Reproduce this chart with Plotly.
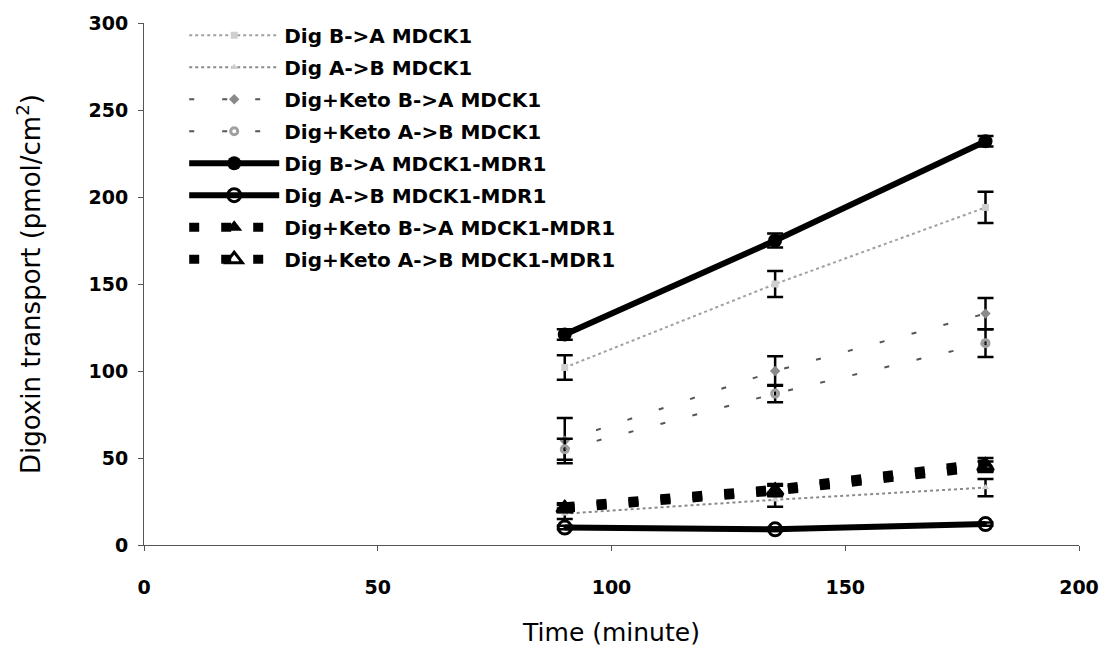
import plotly.graph_objects as go

# Sampling times (minutes)
time_min = [90, 135, 180]

# Digoxin transport (pmol/cm^2) and SD for each condition
dig_ba_mdck1 = [102, 150, 194]
dig_ba_mdck1_err = [7, 7.5, 9]
dig_ab_mdck1 = [18, 26, 33]
dig_ab_mdck1_err = [3, 4, 5]
keto_ba_mdck1 = [60, 100, 133]
keto_ba_mdck1_err = [13, 8.5, 9]
keto_ab_mdck1 = [55, 87, 116]
keto_ab_mdck1_err = [6, 5, 8]
dig_ba_mdr1 = [121, 175, 232]
dig_ba_mdr1_err = [3, 4, 3]
dig_ab_mdr1 = [10, 9, 12]
dig_ab_mdr1_err = [1, 1, 1]
keto_ba_mdr1 = [22, 32, 47]
keto_ba_mdr1_err = [2, 3, 3]
keto_ab_mdr1 = [21, 31, 45]
keto_ab_mdr1_err = [2, 3, 3]

x_ticks = [0, 50, 100, 150, 200]
y_ticks = [0, 50, 100, 150, 200, 250, 300]

FONT = "DejaVu Sans"

series = [
    # name, y, err, line colour, width, dash, marker symbol, marker colour, size, legend rank
    ("Dig B->A MDCK1", dig_ba_mdck1, dig_ba_mdck1_err, "#a0a0a0", 2, "dot", "square", "#cfcfcf", 7, 1),
    ("Dig A->B MDCK1", dig_ab_mdck1, dig_ab_mdck1_err, "#8a8a8a", 2, "dot", "triangle-up", "#cfcfcf", 7, 2),
    ("Dig+Keto B->A MDCK1", keto_ba_mdck1, keto_ba_mdck1_err, "#555555", 2, "5px,28px", "diamond", "#8a8a8a", 8, 3),
    ("Dig+Keto A->B MDCK1", keto_ab_mdck1, keto_ab_mdck1_err, "#555555", 2, "5px,28px", "circle-open", "#a0a0a0", 7, 4),
    ("Dig+Keto A->B MDCK1-MDR1", keto_ab_mdr1, keto_ab_mdr1_err, "#000000", 9, "10px,22px", "triangle-up-open", "#000000", 14, 8),
    ("Dig A->B MDCK1-MDR1", dig_ab_mdr1, dig_ab_mdr1_err, "#000000", 6, "solid", "circle-open", "#000000", 13, 6),
    ("Dig+Keto B->A MDCK1-MDR1", keto_ba_mdr1, keto_ba_mdr1_err, "#000000", 9, "10px,22px", "triangle-up", "#000000", 14, 7),
    ("Dig B->A MDCK1-MDR1", dig_ba_mdr1, dig_ba_mdr1_err, "#000000", 6, "solid", "circle", "#000000", 14, 5),
]

fig = go.Figure()
for name, y, err, lc, lw, dash, sym, mc, ms, rank in series:
    open_sym = sym.endswith("-open")
    fig.add_trace(go.Scatter(
        x=time_min, y=y, name=name, mode="lines+markers",
        legendrank=rank, legendgroup=name,
        line=dict(color=lc, width=lw, dash=dash),
        marker=dict(symbol=sym, size=ms, color=mc,
                    line=dict(color=mc, width=3 if open_sym else 0)),
        error_y=dict(type="data", array=err, visible=True,
                     color="#000000", thickness=2.5, width=8),
    ))

fig.update_layout(
    width=1111, height=661,
    margin=dict(l=144, r=24, t=23, b=116),
    paper_bgcolor="white", plot_bgcolor="white",
    font=dict(family=FONT, size=19, color="#000000"),
    showlegend=True,
    legend=dict(
        x=0.043, y=1.014, xanchor="left", yanchor="top",
        bgcolor="rgba(0,0,0,0)", borderwidth=0,
        font=dict(family=FONT, size=20, color="#000000", weight="bold"),
        itemwidth=90, tracegroupgap=3, traceorder="grouped",
    ),
    xaxis=dict(
        range=[0, 200], tickvals=x_ticks, ticks="outside", ticklen=5,
        tickcolor="#555555", showline=True, linecolor="#555555", linewidth=1,
        showgrid=False, zeroline=False, ticklabelstandoff=20,
        tickfont=dict(family=FONT, size=19, weight="bold"),
        title=dict(text="Time (minute)", font=dict(family=FONT, size=25), standoff=26),
    ),
    yaxis=dict(
        range=[0, 300], tickvals=y_ticks, ticks="outside", ticklen=5,
        tickcolor="#555555", showline=True, linecolor="#555555", linewidth=1,
        showgrid=False, zeroline=False, ticklabelstandoff=6,
        tickfont=dict(family=FONT, size=19, weight="bold"),
        title=dict(text="Digoxin transport (pmol/cm<sup>2</sup>)",
                   font=dict(family=FONT, size=26), standoff=40),
    ),
)

fig.write_html("out.html")
